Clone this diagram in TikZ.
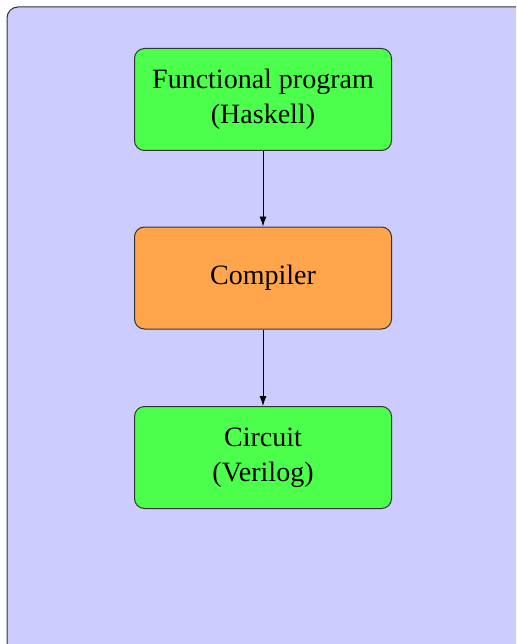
\documentclass[tikz,border=0pt]{standalone}
\usepackage{fontspec}
\setmainfont{Liberation Serif}
\usetikzlibrary{arrows.meta}
\begin{document}
\begin{tikzpicture}[x=1pt,y=-1pt,
  box/.style={draw=black!80,line width=1pt,rounded corners=10pt,minimum width=257pt,minimum height=102pt,align=center,font=\fontsize{28}{35}\selectfont,inner sep=0pt},
  arr/.style={draw=black,line width=0.9pt,-{Latex[length=10pt,width=7pt]}}]
\clip (0,0) rectangle (516,644);
\fill[white] (0,0) rectangle (516,644);
\draw[fill=blue!20,draw=black!80,line width=1pt,rounded corners=11pt] (7,7) rectangle (540,670);
\node[box,fill=green!70] (fp) at (263,99.5) {Functional program\\(Haskell)};
\node[box,fill=orange!70] (comp) at (263,278) {Compiler};
\node[box,fill=green!70] (circ) at (263,457.5) {Circuit\\(Verilog)};
\draw[arr] (fp) -- (comp);
\draw[arr] (comp) -- (circ);
\end{tikzpicture}
\end{document}
